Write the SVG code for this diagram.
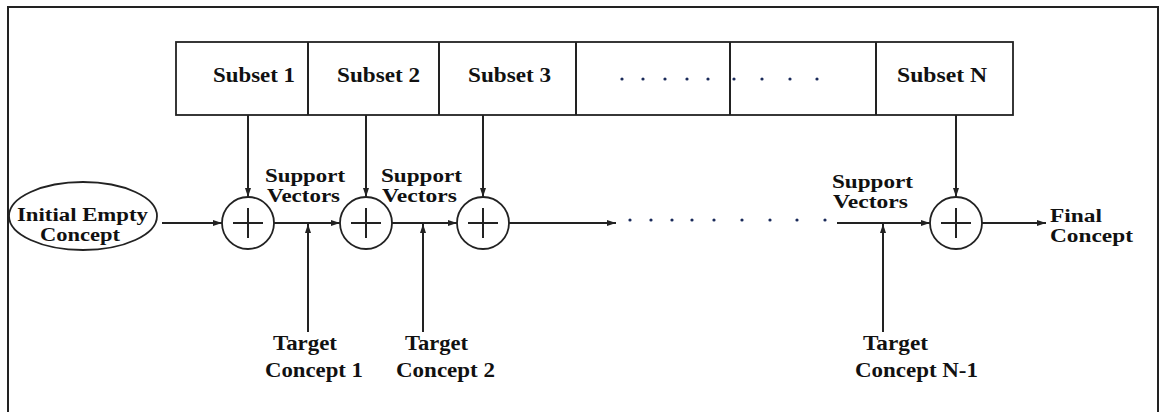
<svg xmlns="http://www.w3.org/2000/svg" width="1160" height="412" viewBox="0 0 1160 412">
  <style>
    .ln { stroke: #222; stroke-width: 2; fill: none; }
    .sh { stroke: #222; stroke-width: 1.8; fill: #fff; }
    .t { font-family: "Liberation Serif", "Times New Roman", serif; font-weight: bold; font-size: 20px; fill: #111; }
    .t2 { font-family: "Liberation Serif", "Times New Roman", serif; font-weight: bold; font-size: 18px; fill: #111; }
    .dot { fill: #1a2a5a; }
  </style>
  <defs>
    <marker id="arr" markerUnits="userSpaceOnUse" markerWidth="10" markerHeight="8" refX="9" refY="3" orient="auto">
      <path d="M0,0 L9,3 L0,6 z" fill="#222"/>
    </marker>
  </defs>
  <rect x="0" y="0" width="1160" height="412" fill="#fff"/>
  <rect x="8" y="7" width="1150" height="430" fill="none" stroke="#222" stroke-width="2"/>

  <g id="subsets">
    <rect class="sh" x="176" y="42" width="837" height="73"/>
    <line class="ln" x1="308" y1="42" x2="308" y2="115"/>
    <line class="ln" x1="439" y1="42" x2="439" y2="115"/>
    <line class="ln" x1="576" y1="42" x2="576" y2="115"/>
    <line class="ln" x1="730" y1="42" x2="730" y2="115"/>
    <line class="ln" x1="876" y1="42" x2="876" y2="115"/>
    <text class="t" x="213" y="82" textLength="82" lengthAdjust="spacingAndGlyphs">Subset 1</text>
    <text class="t" x="337" y="82" textLength="83" lengthAdjust="spacingAndGlyphs">Subset 2</text>
    <text class="t" x="468" y="82" textLength="83" lengthAdjust="spacingAndGlyphs">Subset 3</text>
    <text class="t" x="897" y="82" textLength="90" lengthAdjust="spacingAndGlyphs">Subset N</text>
    <g class="dot">
      <circle cx="622" cy="79" r="1.6"/><circle cx="643" cy="79" r="1.6"/><circle cx="665" cy="79" r="1.6"/>
      <circle cx="687" cy="79" r="1.6"/><circle cx="708" cy="79" r="1.6"/><circle cx="734" cy="79" r="1.6"/>
      <circle cx="762" cy="79" r="1.6"/><circle cx="790" cy="79" r="1.6"/><circle cx="817" cy="79" r="1.6"/>
    </g>
  </g>

  <g id="initial">
    <ellipse class="sh" cx="83" cy="216" rx="74" ry="34"/>
    <text class="t2" x="17" y="221" textLength="131" lengthAdjust="spacingAndGlyphs">Initial Empty</text>
    <text class="t2" x="40" y="241" textLength="80" lengthAdjust="spacingAndGlyphs">Concept</text>
  </g>

  <g id="sum1"><circle class="sh" cx="248" cy="223" r="26"/><path class="ln" d="M233,223 H263 M248,208 V238"/></g>
  <g id="sum2"><circle class="sh" cx="366" cy="223" r="26"/><path class="ln" d="M351,223 H381 M366,208 V238"/></g>
  <g id="sum3"><circle class="sh" cx="483" cy="223" r="26"/><path class="ln" d="M468,223 H498 M483,208 V238"/></g>
  <g id="sum4"><circle class="sh" cx="956" cy="223" r="26"/><path class="ln" d="M941,223 H971 M956,208 V238"/></g>

  <g id="connectors">
    <line class="ln" x1="162" y1="223" x2="222" y2="223" marker-end="url(#arr)"/>
    <line class="ln" x1="274" y1="223" x2="340" y2="223" marker-end="url(#arr)"/>
    <line class="ln" x1="392" y1="223" x2="457" y2="223" marker-end="url(#arr)"/>
    <line class="ln" x1="509" y1="223" x2="616" y2="223" marker-end="url(#arr)"/>
    <line class="ln" x1="837" y1="223" x2="930" y2="223" marker-end="url(#arr)"/>
    <line class="ln" x1="982" y1="223" x2="1046" y2="223" marker-end="url(#arr)"/>
    <line class="ln" x1="248" y1="115" x2="248" y2="197" marker-end="url(#arr)"/>
    <line class="ln" x1="366" y1="115" x2="366" y2="197" marker-end="url(#arr)"/>
    <line class="ln" x1="483" y1="115" x2="483" y2="197" marker-end="url(#arr)"/>
    <line class="ln" x1="956" y1="115" x2="956" y2="197" marker-end="url(#arr)"/>
    <line class="ln" x1="308" y1="332" x2="308" y2="224" marker-end="url(#arr)"/>
    <line class="ln" x1="423" y1="332" x2="423" y2="224" marker-end="url(#arr)"/>
    <line class="ln" x1="883" y1="332" x2="883" y2="224" marker-end="url(#arr)"/>
    <g class="dot">
      <circle cx="630" cy="220" r="1.6"/><circle cx="651" cy="220" r="1.6"/><circle cx="672" cy="220" r="1.6"/>
      <circle cx="692" cy="220" r="1.6"/><circle cx="714" cy="220" r="1.6"/><circle cx="742" cy="220" r="1.6"/>
      <circle cx="770" cy="220" r="1.6"/><circle cx="797" cy="220" r="1.6"/><circle cx="825" cy="220" r="1.6"/>
    </g>
  </g>

  <g id="sv1">
    <text class="t2" x="265" y="182" textLength="80" lengthAdjust="spacingAndGlyphs">Support</text>
    <text class="t2" x="267" y="202" textLength="73" lengthAdjust="spacingAndGlyphs">Vectors</text>
  </g>
  <g id="sv2">
    <text class="t2" x="381" y="182" textLength="81" lengthAdjust="spacingAndGlyphs">Support</text>
    <text class="t2" x="382" y="202" textLength="75" lengthAdjust="spacingAndGlyphs">Vectors</text>
  </g>
  <g id="sv3">
    <text class="t2" x="832" y="188" textLength="81" lengthAdjust="spacingAndGlyphs">Support</text>
    <text class="t2" x="833" y="208" textLength="75" lengthAdjust="spacingAndGlyphs">Vectors</text>
  </g>

  <g id="final">
    <text class="t2" x="1050" y="222" textLength="52" lengthAdjust="spacingAndGlyphs">Final</text>
    <text class="t2" x="1050" y="242" textLength="83" lengthAdjust="spacingAndGlyphs">Concept</text>
  </g>

  <g id="target1">
    <text class="t" x="273" y="350" textLength="64" lengthAdjust="spacingAndGlyphs">Target</text>
    <text class="t" x="265" y="377" textLength="98" lengthAdjust="spacingAndGlyphs">Concept 1</text>
  </g>
  <g id="target2">
    <text class="t" x="405" y="350" textLength="63" lengthAdjust="spacingAndGlyphs">Target</text>
    <text class="t" x="396" y="377" textLength="99" lengthAdjust="spacingAndGlyphs">Concept 2</text>
  </g>
  <g id="target3">
    <text class="t" x="863" y="350" textLength="65" lengthAdjust="spacingAndGlyphs">Target</text>
    <text class="t" x="855" y="377" textLength="123" lengthAdjust="spacingAndGlyphs">Concept N-1</text>
  </g>
</svg>
